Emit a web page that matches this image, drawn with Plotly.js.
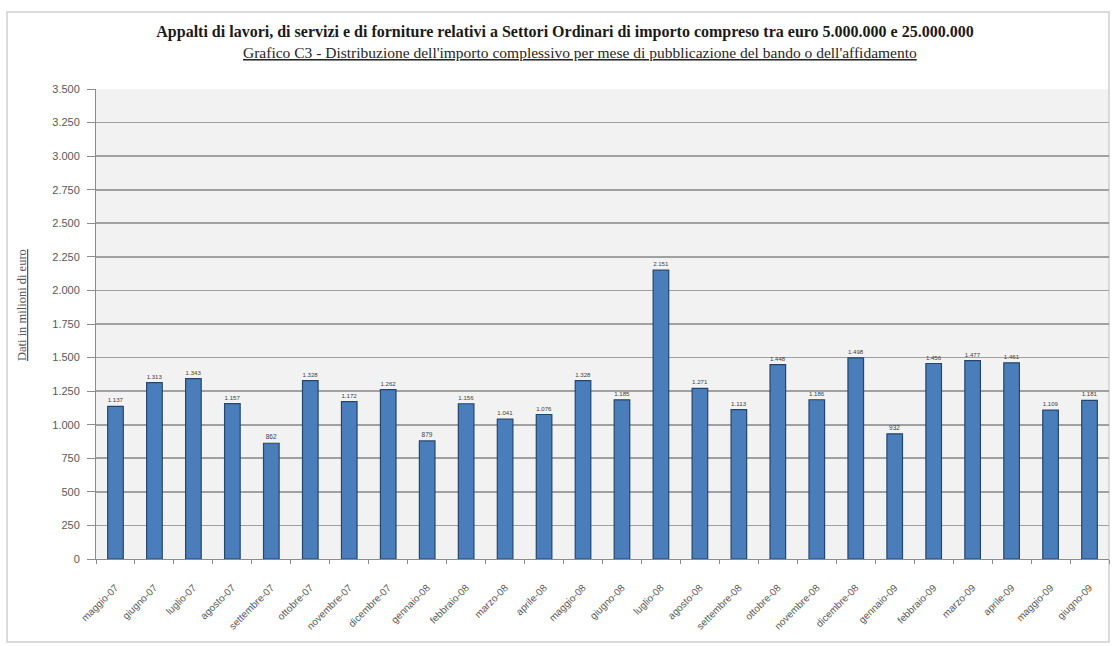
<!DOCTYPE html>
<html>
<head>
<meta charset="utf-8">
<script src="https://cdn.plot.ly/plotly-3.0.1.min.js"></script>
<style>html,body{margin:0;padding:0;background:#fff;}#chart{width:1113px;height:646px;}</style>
</head>
<body>
<div id="chart"></div>
<script>
var months = ["maggio-07","giugno-07","luglio-07","agosto-07","settembre-07","ottobre-07","novembre-07","dicembre-07","gennaio-08","febbraio-08","marzo-08","aprile-08","maggio-08","giugno-08","luglio-08","agosto-08","settembre-08","ottobre-08","novembre-08","dicembre-08","gennaio-09","febbraio-09","marzo-09","aprile-09","maggio-09","giugno-09"];
var importo = [1137,1313,1343,1157,862,1328,1172,1262,879,1156,1041,1076,1328,1185,2151,1271,1113,1448,1186,1498,932,1456,1477,1461,1109,1181];
var yTicks = [0,250,500,750,1000,1250,1500,1750,2000,2250,2500,2750,3000,3250,3500];
var titleText = "Appalti di lavori, di servizi e di forniture relativi a Settori Ordinari di importo compreso tra euro 5.000.000 e 25.000.000";
var subtitleText = "Grafico C3 - Distribuzione dell'importo complessivo per mese di pubblicazione del bando o dell'affidamento";
var yTitleText = "Dati in milioni di euro";

var serif = "'Liberation Serif', 'Times New Roman', serif";

var trace = {
  type: "bar",
  x: months,
  y: importo,
  marker: {color: "#4a7ebb", line: {color: "#23466f", width: 1.2}},
  texttemplate: "%{y:,d}",
  textposition: "outside",
  cliponaxis: false,
  textfont: {family: "Liberation Sans, Arial", size: 6.5, color: "#404040"},
  hoverinfo: "x+y"
};

var layout = {
  width: 1113, height: 646,
  margin: {l: 96, r: 4, t: 89, b: 87},
  paper_bgcolor: "#ffffff",
  plot_bgcolor: "#f2f2f2",
  separators: ",.",
  bargap: 0.6,
  showlegend: false,
  font: {family: "Liberation Sans, Arial", color: "#595959"},
  title: {
    text: "<b>" + titleText + "</b>",
    font: {family: serif, size: 16, color: "#1a1a1a"},
    x: 565 / 1113, xanchor: "center", xref: "container",
    y: 1 - 31/646, yanchor: "middle", yref: "container"
  },
  xaxis: {
    type: "category",
    tickangle: -45,
    tickfont: {size: 10, color: "#595959"},
    ticklabelstandoff: 18,
    showline: true, linecolor: "#8c8c8c", linewidth: 1,
    ticks: "outside", ticklen: 4, tickcolor: "#8c8c8c",
    tickson: "boundaries",
    showgrid: false,
    automargin: false
  },
  yaxis: {
    range: [0, 3500],
    tickvals: yTicks,
    tickformat: ",d",
    tickfont: {size: 11, color: "#595959"},
    ticklabelstandoff: 5,
    showline: true, linecolor: "#8c8c8c", linewidth: 1,
    ticks: "outside", ticklen: 8, tickcolor: "#8c8c8c",
    showgrid: true, gridcolor: "#a0a0a0", gridwidth: 1.8,
    zeroline: false,
    automargin: false
  },
  annotations: [
    {
      text: "<span style='text-decoration:underline'>" + subtitleText + "</span>",
      xref: "paper", yref: "paper",
      x: (580 - 96) / 1013, y: (559 - 53) / 470, xanchor: "center", yanchor: "middle",
      showarrow: false,
      font: {family: serif, size: 15.5, color: "#262626"}
    },
    {
      text: "<span style='text-decoration:underline'>" + yTitleText + "</span>",
      xref: "paper", yref: "paper",
      x: (22 - 96) / 1013, y: (559 - 305) / 470, xanchor: "center", yanchor: "middle",
      textangle: -90,
      showarrow: false,
      font: {family: serif, size: 12.5, color: "#595959"}
    }
  ],
  shapes: [
    {
      type: "rect", xref: "paper", yref: "paper",
      x0: (7 - 96) / 1013, x1: (1109 - 96) / 1013,
      y0: (559 - 642) / 470, y1: (559 - 12) / 470,
      line: {color: "#d0d0d0", width: 1.5}, fillcolor: "rgba(0,0,0,0)", layer: "below"
    }
  ]
};

Plotly.newPlot("chart", [trace], layout, {displayModeBar: false, staticPlot: true});
</script>
</body>
</html>
